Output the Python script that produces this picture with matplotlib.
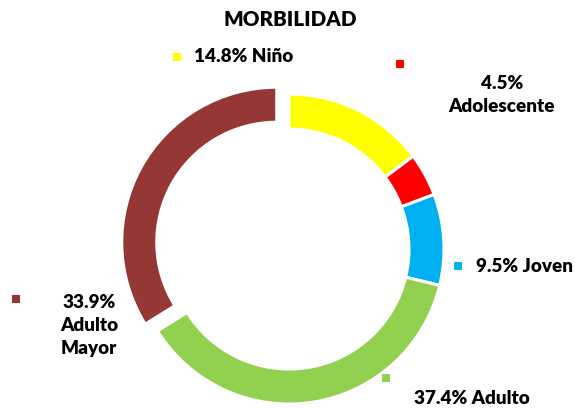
import matplotlib
matplotlib.use("Agg")
import matplotlib.pyplot as plt

categories = ["Niño", "Adolescente", "Joven", "Adulto", "Adulto Mayor"]
values = [14.8, 4.5, 9.5, 37.4, 33.9]
colors = ["#FFFF00", "#FF0000", "#00B0F0", "#92D050", "#953735"]
label_texts = ["14.8% Niño", "4.5%\nAdolescente", "9.5% Joven", "37.4% Adulto", "33.9%\nAdulto\nMayor"]

W, H = 575, 408
fig = plt.figure(figsize=(W / 100, H / 100), dpi=100)
ax = fig.add_axes([0, 0, 1, 1])

font = ["Lato", "DejaVu Sans"]

cx, cy, R = 289, H - 249, 155
explode = [0, 0, 0, 0, 14]
ax.pie(values, colors=colors, startangle=90, counterclock=False,
       center=(cx, cy), radius=R, explode=explode,
       wedgeprops=dict(width=35, edgecolor="white", linewidth=2.2),
       frame=True)
ax.set_xlim(0, W)
ax.set_ylim(0, H)
ax.set_aspect("equal")
ax.axis("off")

ax.text(290, H - 19, "MORBILIDAD", ha="center", va="center", fontsize=14.8,
        fontweight="heavy", family=font, color="black")

# label specs: square position, text position, alignment
sq_pos = [(177, 57), (400, 64), (458, 266), (386, 378), (16, 299)]
txt_pos = [(194, 57), (502, 95), (476, 266), (414, 398), (89, 325.5)]
aligns = ["left", "center", "left", "left", "center"]
for i in range(len(categories)):
    sx, sy = sq_pos[i]
    ax.scatter([sx], [H - sy], marker="s", s=30, color=colors[i], linewidths=0)
    tx, ty = txt_pos[i]
    ax.text(tx, H - ty, label_texts[i], ha=aligns[i], va="center",
            multialignment="center", fontsize=13.6, fontweight="heavy",
            family=font, color="black", linespacing=1.45)

fig.savefig("out.png", dpi=100)
